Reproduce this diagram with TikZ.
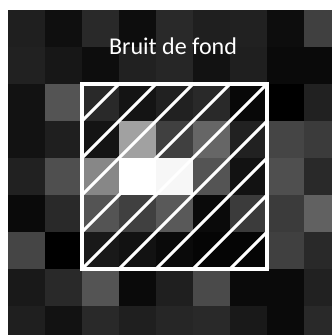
\documentclass[tikz,border=0pt]{standalone}
\usepackage{fontspec}
\setmainfont{Carlito}
\usepackage{tikz}

\begin{document}
\begin{tikzpicture}[x=1cm, y=1cm,
    pix/.style={draw=none},
    hatch/.style={white, line width=2.3pt},
    frame/.style={draw=white, line width=3pt}]
    \useasboundingbox (-0.216,0.27) rectangle (8.757,-8.784);
    \clip (-0.216,0.27) rectangle (8.757,-8.784);
    \fill[white] (-0.216,0.27) rectangle (8.757,-8.784);

    % pixel grid, grey levels in percent of white
    \foreach \row [count=\r from 0] in {
        {12,6,16,5,16,12,13,5,25},
        {13,9,5,13,15,7,12,4,4},
        {7,33,16,8,13,16,3,0,13},
        {7,12,8,63,25,40,13,27,23},
        {13,31,53,100,97,33,7,31,16},
        {4,16,33,25,35,4,23,23,38},
        {27,0,10,7,4,2,2,25,16},
        {10,16,33,4,12,29,4,4,13},
        {12,7,16,12,15,16,10,4,16}} {
        \foreach \v [count=\c from 0] in \row {
            \fill[pix, white!\v!black] (\c,-\r) rectangle ++(1,-1);
        }
    }

    % zone de mesure
    \begin{scope}
        \clip (2,-2) rectangle (7,-7);
        \foreach \k in {-4,...,4}
            \draw[hatch] (2+\k,-7) -- ++(5,5);
    \end{scope}
    \node[frame, minimum width=5cm, minimum height=5cm, inner sep=0pt] (zone) at (4.5,-4.5) {};

    \node[white, anchor=base, font=\fontsize{18.5}{22}\selectfont] (titre) at (4.46,-1.216) {Bruit de fond};
\end{tikzpicture}
\end{document}
